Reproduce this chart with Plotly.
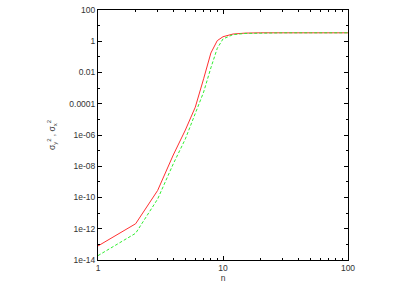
import plotly.graph_objects as go

n_vals = [1, 2, 3, 4, 5, 6, 7, 8, 9, 10, 12, 15, 20, 30, 50, 100]
log_sigma_y2 = [-13.1, -11.68, -9.55, -7.28, -5.68, -4.22, -2.4, -0.75, 0.04, 0.29, 0.46, 0.52, 0.54, 0.54, 0.54, 0.54]
log_sigma_x2 = [-13.72, -12.29, -10.1, -7.85, -6.25, -4.65, -3.25, -1.7, -0.45, 0.15, 0.42, 0.5, 0.53, 0.54, 0.54, 0.54]

sigma_y2 = [10 ** v for v in log_sigma_y2]
sigma_x2 = [10 ** v for v in log_sigma_x2]

y_tickvals = [1e2, 1, 1e-2, 1e-4, 1e-6, 1e-8, 1e-10, 1e-12, 1e-14]
y_ticktext = ["100", "1", "0.01", "0.0001", "1e-06", "1e-08", "1e-10", "1e-12", "1e-14"]
y_minor = [10.0 ** k for k in range(-14, 3)]
x_tickvals = [1, 10, 100]
x_ticktext = ["1", "10", "100"]
x_minor = [m * 10 ** k for k in range(0, 2) for m in range(2, 10)]

fig = go.Figure()
fig.add_trace(go.Scatter(x=n_vals, y=sigma_y2, mode="lines",
                         line=dict(color="#ff3030", width=1), showlegend=False))
fig.add_trace(go.Scatter(x=n_vals, y=sigma_x2, mode="lines",
                         line=dict(color="#30ee30", width=1, dash="3px,2px"), showlegend=False))

font = dict(family="Liberation Sans, Arial, sans-serif", size=8.5, color="#333333")

fig.update_layout(
    width=405, height=284,
    margin=dict(l=98, r=57, t=10, b=24, autoexpand=False),
    paper_bgcolor="white", plot_bgcolor="white",
    font=font,
    xaxis=dict(type="log", range=[0, 2], showgrid=False, zeroline=False, automargin=False,
               showline=True, linecolor="black", linewidth=1, mirror="ticks",
               ticks="inside", ticklen=4, tickcolor="black", ticklabeloverflow="allow",
               tickmode="array", tickvals=x_tickvals, ticktext=x_ticktext,
               minor=dict(tickmode="array", tickvals=x_minor, ticks="inside",
                          ticklen=2, tickcolor="black", showgrid=False),
               title=dict(text="n", font=font, standoff=2)),
    yaxis=dict(type="log", range=[-14, 2], showgrid=False, zeroline=False, automargin=False,
               showline=True, linecolor="black", linewidth=1, mirror="ticks",
               ticks="inside", ticklen=4, tickcolor="black", ticklabeloverflow="allow",
               tickmode="array", tickvals=y_tickvals, ticktext=y_ticktext,
               minor=dict(tickmode="array", tickvals=y_minor, ticks="inside",
                          ticklen=2, tickcolor="black", showgrid=False),
               title=dict(text="σ<sub>y</sub><sup>2</sup> , σ<sub>x</sub><sup>2</sup>",
                          font=font, standoff=12)),
)

fig.write_html("out.html", config={"displayModeBar": False},
               post_script="document.body.style.margin='0';")
